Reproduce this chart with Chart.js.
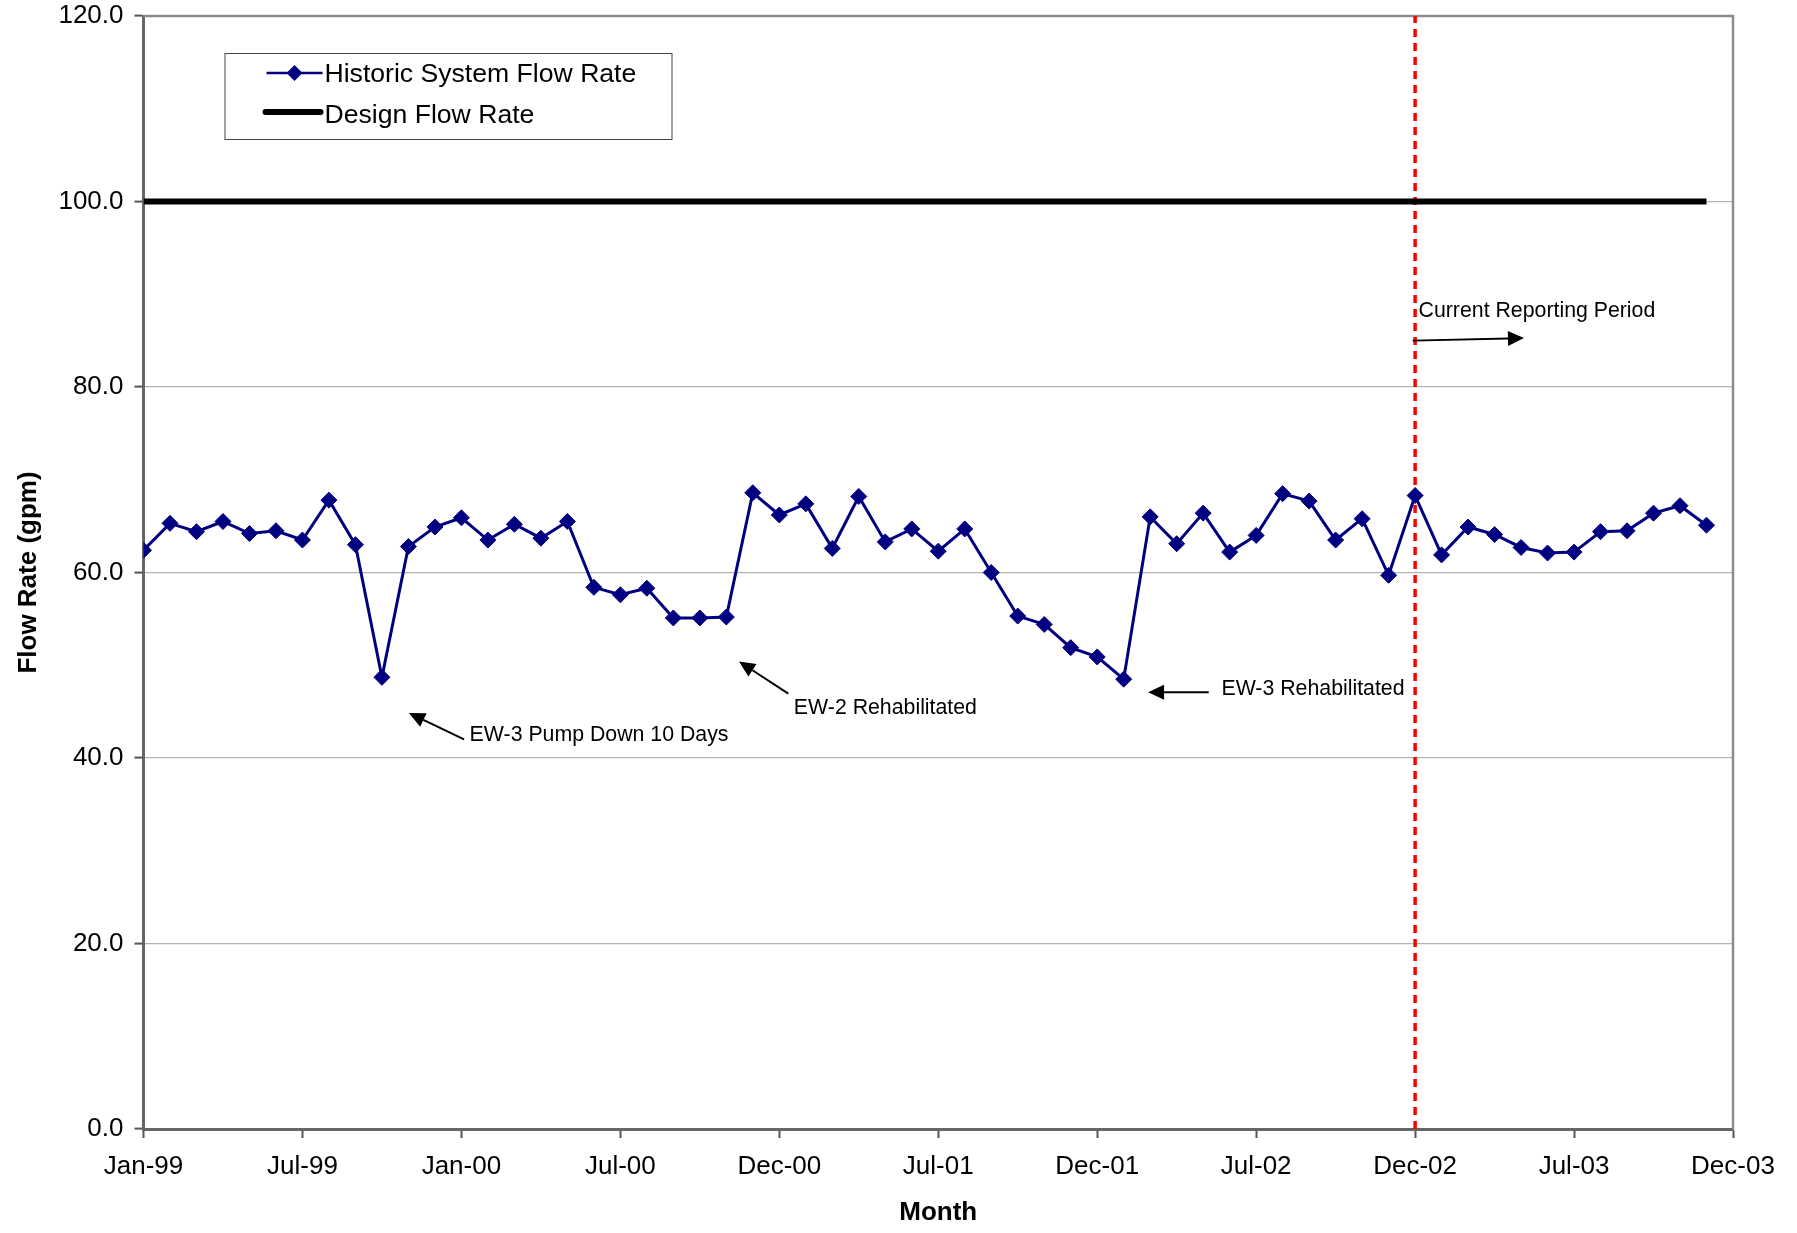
<!DOCTYPE html>
<html>
<head>
<meta charset="utf-8">
<title>Historic System Flow Rate</title>
<script src="https://cdn.jsdelivr.net/npm/chart.js@4.4.1/dist/chart.umd.min.js"></script>
<style>
  html, body { margin: 0; padding: 0; background: #fff; }
  canvas { display: block; }
</style>
</head>
<body>
<canvas id="flowChart" width="1797" height="1233"></canvas>
<script>
// monthly readings, Jan-99 .. Dec-03
const months = [
  'Jan-99','Feb-99','Mar-99','Apr-99','May-99','Jun-99','Jul-99','Aug-99','Sep-99','Oct-99','Nov-99','Dec-99',
  'Jan-00','Feb-00','Mar-00','Apr-00','May-00','Jun-00','Jul-00','Aug-00','Sep-00','Oct-00','Nov-00','Dec-00',
  'Jan-01','Feb-01','Mar-01','Apr-01','May-01','Jun-01','Jul-01','Aug-01','Sep-01','Oct-01','Nov-01','Dec-01',
  'Jan-02','Feb-02','Mar-02','Apr-02','May-02','Jun-02','Jul-02','Aug-02','Sep-02','Oct-02','Nov-02','Dec-02',
  'Jan-03','Feb-03','Mar-03','Apr-03','May-03','Jun-03','Jul-03','Aug-03','Sep-03','Oct-03','Nov-03','Dec-03'
];
const flowRate = [
  62.4, 65.3, 64.4, 65.5, 64.2, 64.5, 63.5, 67.8, 63.0, 48.7, 62.8, 64.9,
  65.9, 63.5, 65.2, 63.7, 65.5, 58.4, 57.6, 58.3, 55.1, 55.1, 55.2, 68.6,
  66.2, 67.4, 62.6, 68.2, 63.3, 64.7, 62.3, 64.7, 60.0, 55.3, 54.4, 51.9,
  50.9, 48.5, 66.0, 63.1, 66.4, 62.2, 64.0, 68.5, 67.7, 63.5, 65.8, 59.7,
  68.3, 61.9, 64.9, 64.1, 62.7, 62.1, 62.2, 64.4, 64.5, 66.4, 67.2, 65.1
];
const designX = [0, 59];
const designFlow = [100, 100];
const reportStart = 48; // Jan-03

const tickPositions = [0, 6, 12, 18, 24, 30, 36, 42, 48, 54, 60];
const tickLabels = ['Jan-99','Jul-99','Jan-00','Jul-00','Dec-00','Jul-01','Dec-01','Jul-02','Dec-02','Jul-03','Dec-03'];

const notes = [
  { text: 'EW-3 Pump Down 10 Days', at: [12.31, 42.5], from: [12.1, 42.0], to: [10.02, 44.85] },
  { text: 'EW-2 Rehabilitated', at: [24.55, 45.35], from: [24.34, 46.95], to: [22.48, 50.4] },
  { text: 'EW-3 Rehabilitated', at: [40.69, 47.45], from: [40.21, 47.08], to: [37.92, 47.08] },
  { text: 'Current Reporting Period', at: [48.13, 88.2], from: [47.91, 85.0], to: [52.11, 85.27] }
];

const FONT = '"Liberation Sans", Arial, Helvetica, sans-serif';
Chart.defaults.font.family = FONT;
Chart.defaults.color = '#000';

function arrow(ctx, x1, y1, x2, y2) {
    const ang = Math.atan2(y2 - y1, x2 - x1);
    const len = 16, half = 7.5;
    const bx = x2 - Math.cos(ang) * len, by = y2 - Math.sin(ang) * len;
    ctx.beginPath();
    ctx.moveTo(x1, y1);
    ctx.lineTo(bx, by);
    ctx.stroke();
    ctx.beginPath();
    ctx.moveTo(x2, y2);
    ctx.lineTo(bx + Math.sin(ang) * half, by - Math.cos(ang) * half);
    ctx.lineTo(bx - Math.sin(ang) * half, by + Math.cos(ang) * half);
    ctx.closePath();
    ctx.fill();
}

const overlay = {
    id: 'overlay',
    beforeDatasetsDraw(chart) {
        const { ctx, chartArea: a } = chart;
        ctx.save();
        ctx.strokeStyle = '#8c8c8c';
        ctx.lineWidth = 2.5;
        ctx.beginPath();
        ctx.moveTo(a.left, a.top);
        ctx.lineTo(a.right, a.top);
        ctx.lineTo(a.right, a.bottom);
        ctx.stroke();
        ctx.restore();
    },
    afterDraw(chart) {
        const { ctx, chartArea: a, scales: { x, y } } = chart;
        ctx.save();

        // annotations
        ctx.fillStyle = '#000';
        ctx.strokeStyle = '#000';
        ctx.lineWidth = 2;
        ctx.font = '21.3px ' + FONT;
        ctx.textBaseline = 'middle';
        ctx.textAlign = 'left';
        notes.forEach(n => {
            ctx.fillText(n.text, x.getPixelForValue(n.at[0]), y.getPixelForValue(n.at[1]));
            arrow(ctx, x.getPixelForValue(n.from[0]), y.getPixelForValue(n.from[1]),
                       x.getPixelForValue(n.to[0]), y.getPixelForValue(n.to[1]));
        });

        // legend box
        const lx = a.left + 81, ly = a.top + 37;
        ctx.fillStyle = '#fff';
        ctx.fillRect(lx, ly, 447, 86);
        ctx.strokeStyle = '#444';
        ctx.lineWidth = 1;
        ctx.strokeRect(lx + 0.5, ly + 0.5, 447, 86);

        ctx.strokeStyle = '#000080';
        ctx.lineWidth = 2.5;
        ctx.beginPath();
        ctx.moveTo(lx + 42, ly + 20);
        ctx.lineTo(lx + 98, ly + 20);
        ctx.stroke();
        ctx.fillStyle = '#000080';
        ctx.beginPath();
        ctx.moveTo(lx + 70, ly + 12);
        ctx.lineTo(lx + 78, ly + 20);
        ctx.lineTo(lx + 70, ly + 28);
        ctx.lineTo(lx + 62, ly + 20);
        ctx.closePath();
        ctx.fill();

        ctx.strokeStyle = '#000';
        ctx.lineWidth = 6;
        ctx.lineCap = 'round';
        ctx.beginPath();
        ctx.moveTo(lx + 41, ly + 59);
        ctx.lineTo(lx + 96, ly + 59);
        ctx.stroke();

        ctx.fillStyle = '#000';
        ctx.font = '26.6px ' + FONT;
        ctx.fillText('Historic System Flow Rate', lx + 100, ly + 22);
        ctx.fillText('Design Flow Rate', lx + 100, ly + 63);
        ctx.restore();
    }
};

new Chart(document.getElementById('flowChart').getContext('2d'), {
    type: 'line',
    data: {
        datasets: [
            {
                label: 'Historic System Flow Rate',
                data: flowRate.map((v, i) => ({ x: i, y: v })),
                borderColor: '#000080',
                backgroundColor: '#000080',
                borderWidth: 3,
                pointStyle: 'rectRot',
                pointRadius: 8,
                pointBorderWidth: 1,
                tension: 0,
                order: 1
            },
            {
                label: 'Design Flow Rate',
                data: designX.map((v, i) => ({ x: v, y: designFlow[i] })),
                borderColor: '#000',
                borderWidth: 6,
                pointRadius: 0,
                order: 2
            },
            {
                label: 'Current Reporting Period',
                data: [{ x: reportStart, y: 0 }, { x: reportStart, y: 120 }],
                borderColor: '#ff0000',
                borderWidth: 3.5,
                borderDash: [8, 6],
                pointRadius: 0,
                order: 3
            }
        ]
    },
    options: {
        responsive: false,
        animation: false,
        layout: { padding: { left: 13, right: 64, top: 16, bottom: 5 } },
        plugins: { legend: { display: false }, tooltip: { enabled: false } },
        scales: {
            x: {
                type: 'linear',
                min: 0,
                max: 60,
                afterBuildTicks: s => { s.ticks = tickPositions.map(v => ({ value: v })); },
                afterFit: s => { s.height = 99; s.paddingLeft = 0; s.paddingRight = 0; },
                ticks: {
                    callback: v => tickLabels[tickPositions.indexOf(v)],
                    font: { size: 26 },
                    color: '#000',
                    padding: 13,
                    maxRotation: 0,
                    autoSkip: false
                },
                grid: { drawOnChartArea: false, tickLength: 9, tickColor: '#555', tickWidth: 2 },
                border: { color: '#666', width: 3 },
                title: { display: true, text: 'Month', font: { size: 26, weight: 'bold' }, color: '#000', padding: 0 }
            },
            y: {
                min: 0,
                max: 120,
                afterFit: s => { s.width = 130.5; s.paddingTop = 0; s.paddingBottom = 0; },
                ticks: {
                    stepSize: 20,
                    callback: v => v.toFixed(1),
                    font: { size: 26 },
                    color: '#000',
                    padding: 11
                },
                grid: { color: '#b3b3b3', lineWidth: 1.2, tickLength: 9, tickColor: '#555', tickWidth: 2 },
                border: { color: '#666', width: 3 },
                title: { display: true, text: 'Flow Rate (gpm)', font: { size: 26, weight: 'bold' }, color: '#000', padding: 0 }
            }
        }
    },
    plugins: [overlay]
});
</script>
</body>
</html>
